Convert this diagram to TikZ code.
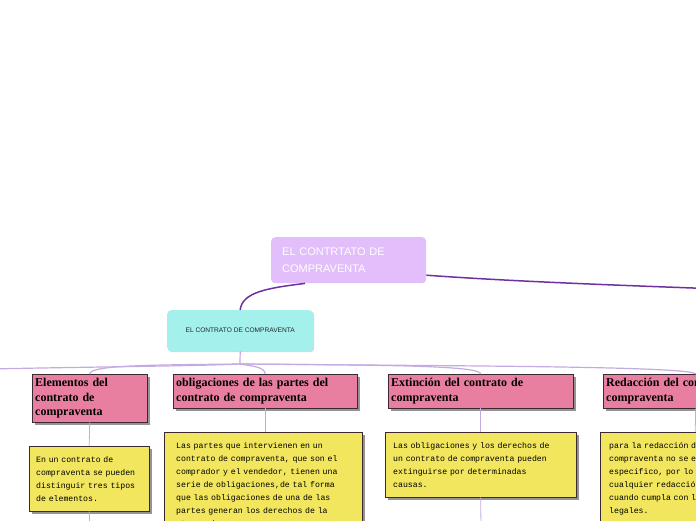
\documentclass[tikz,border=0pt]{standalone}
\usepackage{fontspec}
\setmainfont{Liberation Serif}
\newfontfamily\rootfont{Liberation Sans}
\newfontfamily\notefont{Liberation Mono}
\usetikzlibrary{shadows}

\definecolor{rootpurple}{RGB}{226,190,250}
\definecolor{childcyan}{RGB}{164,240,236}
\definecolor{topicpink}{RGB}{232,126,160}
\definecolor{noteyellow}{RGB}{242,230,94}
\definecolor{boxborder}{RGB}{60,40,50}
\definecolor{darkline}{RGB}{112,48,160}
\definecolor{lightline}{RGB}{196,170,226}

\begin{document}
\begin{tikzpicture}[x=1pt,y=-1pt,
        rootbox/.style={fill=rootpurple, rounded corners=4pt, anchor=north west, align=left, text=white, inner xsep=11pt, font=\rootfont\fontsize{11}{17}\selectfont},
        childbox/.style={fill=childcyan, rounded corners=4pt, anchor=north west, align=center, text=black!85, font=\rootfont\fontsize{6.6}{8}\selectfont, drop shadow={shadow xshift=1pt, shadow yshift=-1pt, fill=black!40, opacity=0.4}},
        topicbox/.style={draw=boxborder, fill=topicpink, anchor=north west, align=left, inner xsep=3pt, font=\bfseries\fontsize{12}{14.5}\selectfont, drop shadow={shadow xshift=2.5pt, shadow yshift=-2.5pt, fill=black!70, opacity=0.6}},
        notebox/.style={draw=boxborder, fill=noteyellow, anchor=north west, align=left, font=\notefont\fontsize{8.2}{13}\selectfont, drop shadow={shadow xshift=2.5pt, shadow yshift=-2.5pt, fill=black!70, opacity=0.6}},
        mainline/.style={draw=darkline, line width=1.5pt},
        branch/.style={draw=lightline, line width=1.2pt},
        stem/.style={draw=lightline, line width=0.8pt}
    ]
    \useasboundingbox (0,0) rectangle (696,520);
    \clip (0,0) rectangle (696,520);

    % --- central topic ---
    \node[rootbox, minimum width=155pt, minimum height=46pt, text width=133pt] (root) at (271,237) {EL CONTRTATO DE\\COMPRAVENTA};
    \node[childbox, minimum width=146pt, minimum height=41pt] (child) at (167,310) {EL CONTRATO DE COMPRAVENTA};

    % --- main topics ---
    \node[topicbox, minimum width=115pt, minimum height=48pt, text width=109pt] (topic1) at (32,374) {Elementos del\\contrato de\\compraventa};
    \node[topicbox, minimum width=184pt, minimum height=34pt, text width=178pt] (topic2) at (173,374) {obligaciones de las partes del\\contrato de compraventa};
    \node[topicbox, minimum width=185pt, minimum height=34pt, text width=179pt] (topic3) at (388,374) {Extinción del contrato de\\compraventa};
    \node[topicbox, minimum width=185pt, minimum height=34pt, text width=179pt] (topic4) at (603,374) {Redacción del contrato de\\compraventa};

    % --- notes ---
    \node[notebox, minimum width=120pt, minimum height=65pt, inner xsep=7pt, text width=106pt] (note1) at (29,446) {En un contrato de\\compraventa se pueden\\distinguir tres tipos\\de elementos.};
    \node[notebox, minimum width=198pt, minimum height=107pt, inner xsep=12pt, text width=174pt] (note2) at (164,432) {Las partes que intervienen en un\\contrato de compraventa, que son el\\comprador y el vendedor, tienen una\\serie de obligaciones,de tal forma\\que las obligaciones de una de las\\partes generan los derechos de la\\otra y viceversa.};
    \node[notebox, minimum width=191pt, minimum height=65pt, inner xsep=8pt, text width=175pt] (note3) at (385,432) {Las obligaciones y los derechos de\\un contrato de compraventa pueden\\extinguirse por determinadas\\causas.};
    \node[notebox, minimum width=190pt, minimum height=94pt, inner xsep=9pt, text width=172pt] (note4) at (600,432) {para la redacción del contrato de\\compraventa no se exige un modelo\\especifico, por lo que es válida\\cualquier redacción del mismo\\cuando cumpla con los requisitos\\legales.};

    % --- free ends ---
    \coordinate (hub) at (240,364);
    \coordinate (offleft) at (-10,369);
    \coordinate (offright) at (720,289);
    \coordinate (below1) at (90,530);
    \coordinate (below3) at (481,530);

    % --- connectors ---
    \draw[mainline] ([xshift=34pt]root.south west) .. controls (268,288) and (242,292) .. (child.north);
    \draw[mainline] ([yshift=-15pt]root.east) .. controls (520,282) and (640,286) .. (offright);

    \draw[branch] (child.south) -- (hub);
    \draw[branch] (hub) .. controls (200,366) and (80,367) .. (offleft);
    \draw[branch] (hub) .. controls (150,365) and (90,365) .. (topic1.north);
    \draw[branch] (hub) .. controls (252,366) and (265,367) .. (topic2.north);
    \draw[branch] (hub) .. controls (400,365) and (480,366) .. (topic3.north);
    \draw[branch] (hub) .. controls (450,366) and (690,366) .. (topic4.north);

    \draw[stem] (topic1.south) -- (note1.north);
    \draw[stem] (note1.south) -- (below1);
    \draw[stem] (topic2.south) -- (topic2.south |- note2.north);
    \draw[stem] (topic3.south) -- (note3.north);
    \draw[stem] (note3.south) -- (below3);
    \draw[stem] (topic4.south) -- (note4.north);

\end{tikzpicture}
\end{document}
